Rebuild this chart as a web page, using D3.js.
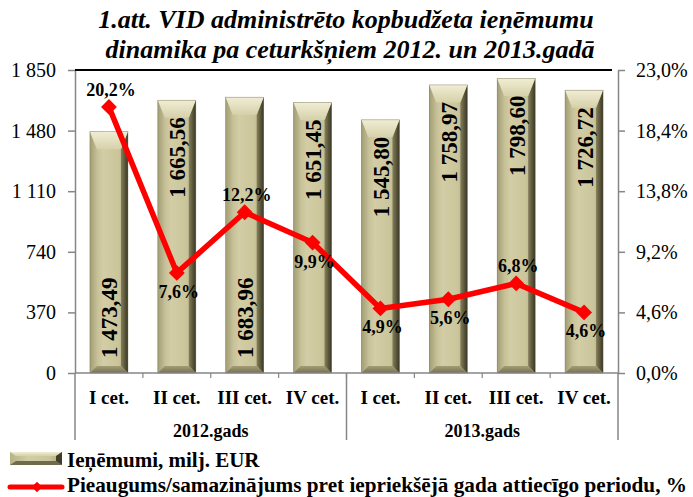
<!DOCTYPE html>
<meta charset="UTF-8">
<script src="https://d3js.org/d3.v7.min.js"></script>
<style>
  body { margin: 0; background: #fff; }
  text { font-family: "Liberation Serif", "Times New Roman", serif; }
</style>
<div id="my_dataviz"></div>
<script>

// data
var quarters = ["I cet.", "II cet.", "III cet.", "IV cet.", "I cet.", "II cet.", "III cet.", "IV cet."];
var years = ["2012.gads", "2013.gads"];
var revenue = [1473.49, 1665.56, 1683.96, 1651.45, 1545.80, 1758.97, 1798.60, 1726.72];
var revenueLabels = ["1 473,49", "1 665,56", "1 683,96", "1 651,45", "1 545,80", "1 758,97", "1 798,60", "1 726,72"];
var growth = [20.2, 7.6, 12.2, 9.9, 4.9, 5.6, 6.8, 4.6];
var growthLabels = ["20,2%", "7,6%", "12,2%", "9,9%", "4,9%", "5,6%", "6,8%", "4,6%"];
var leftTicks = [0, 370, 740, 1110, 1480, 1850];
var rightTicks = [0, 4.6, 9.2, 13.8, 18.4, 23.0];
// where the labels go: bar label at base or top, growth label above or below
var barLabelAtBase = [true, false, true, false, false, false, false, false];
var growthAbove = [true, false, true, false, false, false, true, false];

var width = 693, height = 497;
var margin = {top: 70, right: 75, bottom: 124, left: 75};
var plotW = width - margin.left - margin.right; // 543
var plotH = height - margin.top - margin.bottom; // 303

var svg = d3.select("#my_dataviz")
  .append("svg")
    .attr("width", width)
    .attr("height", height);

// gradients for the bevelled bars
var defs = svg.append("defs");
function lin(id, x2, y2, stops) {
  var g = defs.append("linearGradient").attr("id", id)
    .attr("x1", 0).attr("y1", 0).attr("x2", x2).attr("y2", y2);
  stops.forEach(function(s) {
    g.append("stop").attr("offset", s[0]).attr("stop-color", s[1]);
  });
}
lin("face", 1, 0, [[0, "#b8b287"], [0.35, "#d3cda6"], [0.75, "#cbc59b"], [1, "#a9a37a"]]);
lin("topBev", 0, 1, [[0, "#f0edd4"], [1, "#d6d1aa"]]);
lin("leftBev", 1, 0, [[0, "#a39d75"], [1, "#c4be95"]]);
lin("rightBev", 1, 0, [[0, "#847f5a"], [1, "#3a3724"]]);
lin("botBev", 0, 1, [[0, "#a39d76"], [1, "#767152"]]);

var g = svg.append("g").attr("transform", "translate(" + margin.left + "," + margin.top + ")");

// scales
var x = d3.scaleBand()
  .domain(d3.range(quarters.length))
  .range([0, plotW])
  .paddingInner(0.44)
  .paddingOuter(0.22);
var step = plotW / quarters.length;
var y = d3.scaleLinear().domain([0, 1850]).range([plotH, 0]);
var y2 = d3.scaleLinear().domain([0, 23]).range([plotH, 0]);

// left axis
var leftAxis = g.append("g")
  .call(d3.axisLeft(y).tickValues(leftTicks).tickSizeInner(7).tickSizeOuter(0)
    .tickFormat(function(d) { return d3.format(",")(d).replace(",", " "); }));
leftAxis.select(".domain").attr("stroke", "#868686").attr("stroke-width", 1.5);
leftAxis.selectAll(".tick line").attr("stroke", "#868686").attr("stroke-width", 1.5);
leftAxis.selectAll(".tick text").attr("font-size", 20).attr("fill", "#000")
  .attr("font-family", "Liberation Serif").attr("x", -19);

// right axis
var rightAxis = g.append("g").attr("transform", "translate(" + plotW + ",0)")
  .call(d3.axisRight(y2).tickValues(rightTicks).tickSizeInner(7).tickSizeOuter(0)
    .tickFormat(function(d) { return d3.format(".1f")(d).replace(".", ",") + "%"; }));
rightAxis.select(".domain").attr("stroke", "#868686").attr("stroke-width", 1.5);
rightAxis.selectAll(".tick line").attr("stroke", "#868686").attr("stroke-width", 1.5);
rightAxis.selectAll(".tick text").attr("font-size", 20).attr("fill", "#000")
  .attr("font-family", "Liberation Serif").attr("x", 18);

// top border line
g.append("line")
  .attr("x1", 0).attr("x2", plotW - 6).attr("y1", 0).attr("y2", 0)
  .attr("stroke", "#000").attr("stroke-width", 2);

// bars
var b = 7;
var bars = g.append("g").selectAll("g")
  .data(revenue)
  .enter()
  .append("g")
    .attr("transform", function(d, i) { return "translate(" + x(i) + "," + y(d) + ")"; });

bars.each(function(d, i) {
  var w = x.bandwidth(), h = plotH - y(d);
  var s = d3.select(this);
  s.append("rect").attr("width", w).attr("height", h).attr("fill", "url(#face)");
  s.append("path").attr("fill", "url(#leftBev)")
    .attr("d", "M0,0 L" + b + "," + (b * 2.5) + " L" + b + "," + (h - b) + " L0," + h + "Z");
  s.append("path").attr("fill", "url(#rightBev)")
    .attr("d", "M" + w + ",0 L" + (w - b) + "," + (b * 2.5) + " L" + (w - b) + "," + (h - b) + " L" + w + "," + h + "Z");
  s.append("path").attr("fill", "url(#topBev)")
    .attr("d", "M0,0 L" + w + ",0 L" + (w - b) + "," + (b * 2.5) + " L" + b + "," + (b * 2.5) + "Z");
  s.append("path").attr("fill", "url(#botBev)")
    .attr("d", "M0," + h + " L" + w + "," + h + " L" + (w - b) + "," + (h - b) + " L" + b + "," + (h - b) + "Z");
  s.append("rect").attr("width", w).attr("height", h).attr("fill", "none")
    .attr("stroke", "#6b6749").attr("stroke-width", 0.6).attr("stroke-opacity", 0.6);
});

// bar value labels (rotated)
g.append("g").selectAll("text")
  .data(revenue)
  .enter()
  .append("text")
    .attr("transform", function(d, i) {
      var cx = x(i) + x.bandwidth() / 2 + 1;
      var yy = barLabelAtBase[i] ? plotH - 15 : y(d) + 17;
      return "translate(" + cx + "," + yy + ") rotate(-90)";
    })
    .attr("text-anchor", function(d, i) { return barLabelAtBase[i] ? "start" : "end"; })
    .attr("dominant-baseline", "central")
    .attr("font-size", 23)
    .attr("font-weight", "bold")
    .text(function(d, i) { return revenueLabels[i]; });

// x axis line
g.append("line")
  .attr("x1", 0).attr("x2", plotW).attr("y1", plotH).attr("y2", plotH)
  .attr("stroke", "#868686").attr("stroke-width", 1.5);

// category tick marks
g.append("g").selectAll("line")
  .data(d3.range(1, quarters.length))
  .enter()
  .append("line")
    .attr("x1", function(d) { return d * step; }).attr("x2", function(d) { return d * step; })
    .attr("y1", plotH).attr("y2", plotH + 5)
    .attr("stroke", "#868686").attr("stroke-width", 1.2);

// group separators
g.append("g").selectAll("line")
  .data([0, 4, 8])
  .enter()
  .append("line")
    .attr("x1", function(d) { return d * step; }).attr("x2", function(d) { return d * step; })
    .attr("y1", plotH).attr("y2", plotH + 67)
    .attr("stroke", "#868686").attr("stroke-width", 1.5);

// quarter labels
g.append("g").selectAll("text")
  .data(quarters)
  .enter()
  .append("text")
    .attr("x", function(d, i) { return (i + 0.5) * step; })
    .attr("y", plotH + 31)
    .attr("text-anchor", "middle")
    .attr("font-size", 19)
    .attr("font-weight", "bold")
    .text(function(d) { return d; });

// year labels
g.append("g").selectAll("text")
  .data(years)
  .enter()
  .append("text")
    .attr("x", function(d, i) { return (i * 4 + 2) * step; })
    .attr("y", plotH + 64)
    .attr("text-anchor", "middle")
    .attr("font-size", 18)
    .attr("font-weight", "bold")
    .text(function(d) { return d; });

// growth line
var cxs = function(i) { return x(i) + x.bandwidth() / 2; };
var line = d3.line()
  .x(function(d, i) { return cxs(i); })
  .y(function(d) { return y2(d); });

g.append("path")
  .datum(growth)
  .attr("fill", "none")
  .attr("stroke", "#ff0000")
  .attr("stroke-width", 5.5)
  .attr("stroke-linejoin", "round")
  .attr("d", line);

g.append("g").selectAll("path")
  .data(growth)
  .enter()
  .append("path")
    .attr("transform", function(d, i) { return "translate(" + cxs(i) + "," + y2(d) + ")"; })
    .attr("d", d3.symbol().type(d3.symbolDiamond2).size(160))
    .attr("fill", "#ff0000");

g.append("g").selectAll("text")
  .data(growth)
  .enter()
  .append("text")
    .attr("x", function(d, i) { return cxs(i) + 2; })
    .attr("y", function(d, i) { return growthAbove[i] ? y2(d) - 11 : y2(d) + 25; })
    .attr("text-anchor", "middle")
    .attr("font-size", 18)
    .attr("font-weight", "bold")
    .text(function(d, i) { return growthLabels[i]; });

// title
svg.append("text")
  .attr("x", 346).attr("y", 28)
  .attr("text-anchor", "middle")
  .attr("font-size", 26).attr("font-weight", "bold").attr("font-style", "italic")
  .text("1.att. VID administrēto kopbudžeta ieņēmumu");
svg.append("text")
  .attr("x", 350).attr("y", 58)
  .attr("text-anchor", "middle")
  .attr("font-size", 26).attr("font-weight", "bold").attr("font-style", "italic")
  .text("dinamika pa ceturkšņiem 2012. un 2013.gadā");

// legend
var lg = svg.append("g");
var sw = lg.append("g").attr("transform", "translate(10,452)");
sw.append("rect").attr("width", 52).attr("height", 13).attr("fill", "url(#face)");
sw.append("path").attr("d", "M0,0 L52,0 L46,4 L6,4Z").attr("fill", "url(#topBev)");
sw.append("path").attr("d", "M0,13 L52,13 L46,9 L6,9Z").attr("fill", "#6e6a4c");
sw.append("path").attr("d", "M52,0 L52,13 L46,9 L46,4Z").attr("fill", "#3f3c28");
lg.append("text").attr("x", 67).attr("y", 467)
  .attr("font-size", 21).attr("font-weight", "bold")
  .text("Ieņēmumi, milj. EUR");

lg.append("line").attr("x1", 10).attr("x2", 62).attr("y1", 487).attr("y2", 487)
  .attr("stroke", "#ff0000").attr("stroke-width", 5).attr("stroke-linecap", "round");
lg.append("path").attr("transform", "translate(37,487)")
  .attr("d", d3.symbol().type(d3.symbolDiamond2).size(70))
  .attr("fill", "#ff0000");
lg.append("text").attr("x", 67).attr("y", 492)
  .attr("font-size", 21).attr("font-weight", "bold")
  .attr("textLength", 620).attr("lengthAdjust", "spacingAndGlyphs")
  .text("Pieaugums/samazinājums pret iepriekšējā gada attiecīgo periodu, %");
</script>
